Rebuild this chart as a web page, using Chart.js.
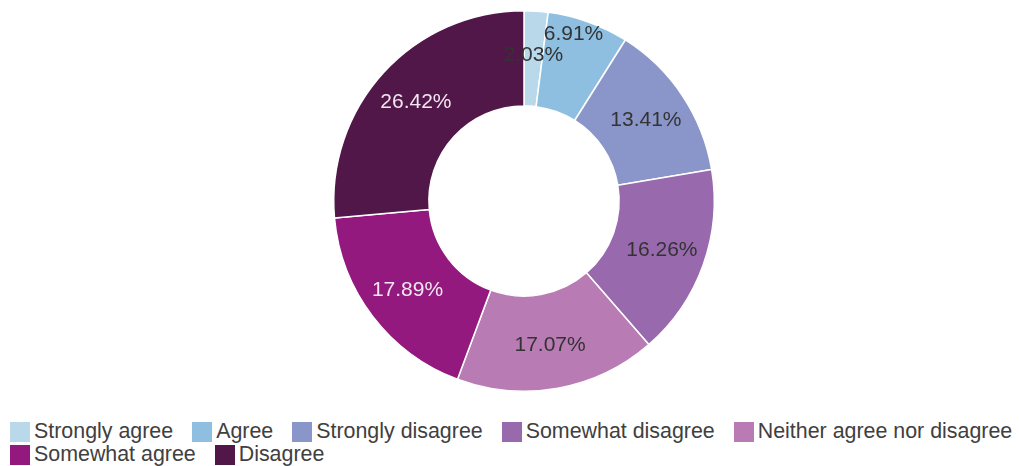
<!DOCTYPE html>
<html>
<head>
<meta charset="utf-8">
<script src="https://cdn.jsdelivr.net/npm/chart.js@4.4.0/dist/chart.umd.min.js"></script>
<style>
  html, body { margin: 0; padding: 0; background: #fff; }
  #wrap { position: relative; width: 1020px; height: 466px; overflow: hidden; }
  #chartBox { position: absolute; left: 0; top: 0; width: 1020px; height: 400px; }
  #legend {
    position: absolute; left: 10px; top: 420px; width: 1040px;
    display: flex; flex-wrap: wrap;
    font-family: "Liberation Sans", Arial, sans-serif; font-size: 21.4px; color: #404040;
    line-height: 23px;
  }
  .item { display: flex; align-items: center; margin-right: 19px; white-space: nowrap; }
  .swatch { width: 20px; height: 20px; margin-right: 4px; }
</style>
</head>
<body>
<div id="wrap">
  <div id="chartBox"><canvas id="chart"></canvas></div>
  <div id="legend"></div>
</div>
<script>
const categories = ['Strongly agree', 'Agree', 'Strongly disagree', 'Somewhat disagree', 'Neither agree nor disagree', 'Somewhat agree', 'Disagree'];
const shares = [2.03, 6.91, 13.41, 16.26, 17.07, 17.89, 26.42];
const sliceColors = ['#b9d9eb', '#8ebfe0', '#8a96c9', '#9869ad', '#b97bb4', '#93197f', '#521749'];
const labelColors = ['#333', '#333', '#333', '#333', '#333', '#f2e6f0', '#f2e6f0'];

// percentage labels inside the ring, nudged when they collide
const sliceLabels = {
  id: 'sliceLabels',
  afterDatasetsDraw(chart) {
    const ctx = chart.ctx;
    const meta = chart.getDatasetMeta(0);
    const placed = [];
    ctx.save();
    ctx.font = '21px "Liberation Sans", Arial, sans-serif';
    ctx.textAlign = 'center';
    ctx.textBaseline = 'middle';
    meta.data.forEach((arc, i) => {
      const p = arc.getProps(['x', 'y', 'startAngle', 'endAngle', 'innerRadius', 'outerRadius'], true);
      const mid = (p.startAngle + p.endAngle) / 2;
      const r = p.innerRadius + 0.54 * (p.outerRadius - p.innerRadius);
      let x = p.x + Math.cos(mid) * r;
      let y = p.y + Math.sin(mid) * r;
      const text = shares[i].toFixed(2) + '%';
      const w = ctx.measureText(text).width;
      const h = 21;
      placed.forEach(b => {
        if (Math.abs(b.x - x) < (b.w + w) / 2 && Math.abs(b.y - y) < h) {
          y = y < p.y ? b.y - h : b.y + h;
        }
      });
      placed.push({ x, y, w });
      ctx.fillStyle = labelColors[i];
      ctx.fillText(text, x, y);
    });
    ctx.restore();
  }
};

new Chart(document.getElementById('chart'), {
  type: 'doughnut',
  data: {
    labels: categories,
    datasets: [{
      data: shares,
      backgroundColor: sliceColors,
      borderColor: '#ffffff',
      borderWidth: 1.5
    }]
  },
  options: {
    responsive: true,
    maintainAspectRatio: false,
    animation: false,
    cutout: '50%',
    layout: { padding: { left: 28, top: 10, bottom: 8 } },
    plugins: {
      legend: { display: false },
      tooltip: { enabled: false }
    }
  },
  plugins: [sliceLabels]
});

const legend = document.getElementById('legend');
categories.forEach((name, i) => {
  const item = document.createElement('div');
  item.className = 'item';
  const sw = document.createElement('span');
  sw.className = 'swatch';
  sw.style.background = sliceColors[i];
  item.appendChild(sw);
  item.appendChild(document.createTextNode(name));
  legend.appendChild(item);
});
</script>
</body>
</html>
